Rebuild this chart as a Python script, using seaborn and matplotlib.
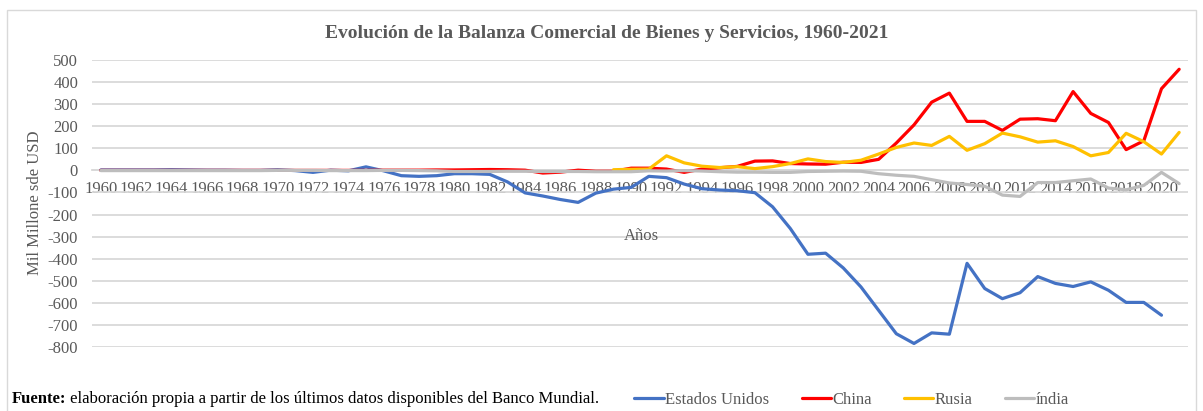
import numpy as np
import pandas as pd
import matplotlib
matplotlib.use("Agg")
import matplotlib.pyplot as plt
from matplotlib.patches import Rectangle
import seaborn as sns

years = list(range(1960, 2022))

estados_unidos = [2, 2, 2, 2, 3, 2, 1, 1, 0, 0,
                  3, -1, -9, 1, -2, 16, -2, -24, -27, -24,
                  -15, -15, -18, -52, -102, -116, -132, -145, -103, -85,
                  -77, -27, -33, -62, -83, -89, -92, -101, -165, -263,
                  -380, -375, -442, -528, -634, -740, -784, -736, -742, -421,
                  -535, -581, -554, -481, -512, -526, -505, -543, -598, -598,
                  -656, np.nan]

china = [0, 0, 0, 0, 0, 0, 0, 0, 0, 0,
         0, 0, 0, 0, 0, 0, 1, 1, 1, 2,
         2, 3, 4, 3, 1, -12, -8, 1, -4, -4,
         10, 10, 6, -9, 6, 12, 18, 42, 43, 31,
         29, 28, 37, 36, 50, 124, 206, 309, 350, 222,
         222, 181, 232, 234, 225, 357, 258, 217, 94, 134,
         370, 458]

rusia = [np.nan] * 29 + [3,
         5, 6, 66, 34, 19, 13, 17, 8, 17, 31,
         52, 40, 36, 46, 74, 104, 124, 113, 154, 91,
         121, 169, 152, 128, 134, 108, 66, 81, 168, 130,
         74, 172]

india = [-1, -1, -1, -1, -1, -1, -1, -1, -1, -1,
         0, 0, 0, -1, -1, -1, 0, 0, -1, -2,
         -5, -5, -5, -4, -4, -5, -5, -5, -6, -6,
         -6, -2, -3, -1, -3, -6, -8, -8, -9, -9,
         -5, -4, -3, -4, -15, -22, -27, -42, -57, -64,
         -72, -112, -118, -55, -55, -47, -39, -80, -88, -68,
         -9, -60]

series_names = ["Estados Unidos", "China", "Rusia", "índia"]
series_colors = ["#4472C4", "#FF0000", "#FFC000", "#BDBDBD"]
x_tick_years = list(range(1960, 2021, 2))
y_ticks = list(range(-800, 501, 100))

title = "Evolución de la Balanza Comercial de Bienes y Servicios, 1960-2021"
ylabel = "Mil Millone sde USD"
xlabel = "Años"
source_bold = "Fuente:"
source_text = " elaboración propia a partir de los últimos datos disponibles del Banco Mundial."

df = pd.DataFrame({"Año": years,
                   series_names[0]: estados_unidos,
                   series_names[1]: china,
                   series_names[2]: rusia,
                   series_names[3]: india})
long = df.melt(id_vars="Año", var_name="Serie", value_name="Valor").dropna()

sns.set_theme(style="white")
plt.rcParams["font.family"] = ["Liberation Serif", "DejaVu Serif"]
plt.rcParams["axes.unicode_minus"] = False

W, H = 1203, 411
FS = 12
fig = plt.figure(figsize=(W / 100, H / 100), dpi=100)
ax = fig.add_axes([92 / W, 1 - 347 / H, (1188 - 92) / W, (347 - 60) / H])

sns.lineplot(data=long, x="Año", y="Valor", hue="Serie", hue_order=series_names,
             palette=dict(zip(series_names, series_colors)), linewidth=2.3,
             ax=ax, legend=True)

ax.set_xlim(1959.5, 2021.5)
ax.set_ylim(-800, 500)
ax.set_yticks(y_ticks)
ax.set_yticklabels([str(v) for v in y_ticks])
ax.set_xticks(x_tick_years)
ax.set_xticklabels([str(y) for y in x_tick_years])
ax.grid(axis="y", color="#D9D9D9", linewidth=1.3)
ax.grid(axis="x", visible=False)
ax.set_axisbelow(True)
for s in ["top", "right", "left"]:
    ax.spines[s].set_visible(False)
ax.spines["bottom"].set_position(("data", 0))
ax.spines["bottom"].set_color("#D9D9D9")
ax.spines["bottom"].set_linewidth(1.3)
ax.spines["bottom"].set_zorder(0)
ax.tick_params(axis="x", length=0, pad=8, labelsize=FS, colors="#595959")
ax.tick_params(axis="y", length=0, pad=10, labelsize=FS, colors="#595959")
ax.set_xlabel("")
ax.set_ylabel("")

handles, labels = ax.get_legend_handles_labels()
ax.get_legend().remove()
leg = fig.legend(handles, labels, loc="center", bbox_to_anchor=(851.5 / W, 1 - 400 / H),
                 ncol=4, frameon=False, handlelength=1.75, handletextpad=0.08,
                 columnspacing=1.95, fontsize=FS, borderpad=0, borderaxespad=0)
for t in leg.get_texts():
    t.set_color("#595959")

fig.text(607 / W, 1 - 33 / H, title, ha="center", va="center", fontsize=14,
         fontweight="bold", color="#595959")
fig.text(35 / W, 1 - 203 / H, ylabel, ha="center", va="center", rotation=90,
         fontsize=FS, color="#595959")
fig.text(641 / W, 1 - 236 / H, xlabel, ha="center", va="center", fontsize=FS,
         color="#595959")

t1 = fig.text(12 / W, 1 - 399 / H, source_bold, ha="left", va="center", fontsize=FS,
              fontweight="bold", color="black")
fig.canvas.draw()
bb = t1.get_window_extent(renderer=fig.canvas.get_renderer())
fig.text(bb.x1 / W, 1 - 399 / H, source_text, ha="left", va="center", fontsize=FS,
         color="black")

fig.patches.append(Rectangle((7 / W, -0.02), (1196 - 7) / W, (411 - 10) / H + 0.02,
                             transform=fig.transFigure, fill=False,
                             edgecolor="#D9D9D9", linewidth=1.0))

fig.savefig("out.png", dpi=100, facecolor="white")
